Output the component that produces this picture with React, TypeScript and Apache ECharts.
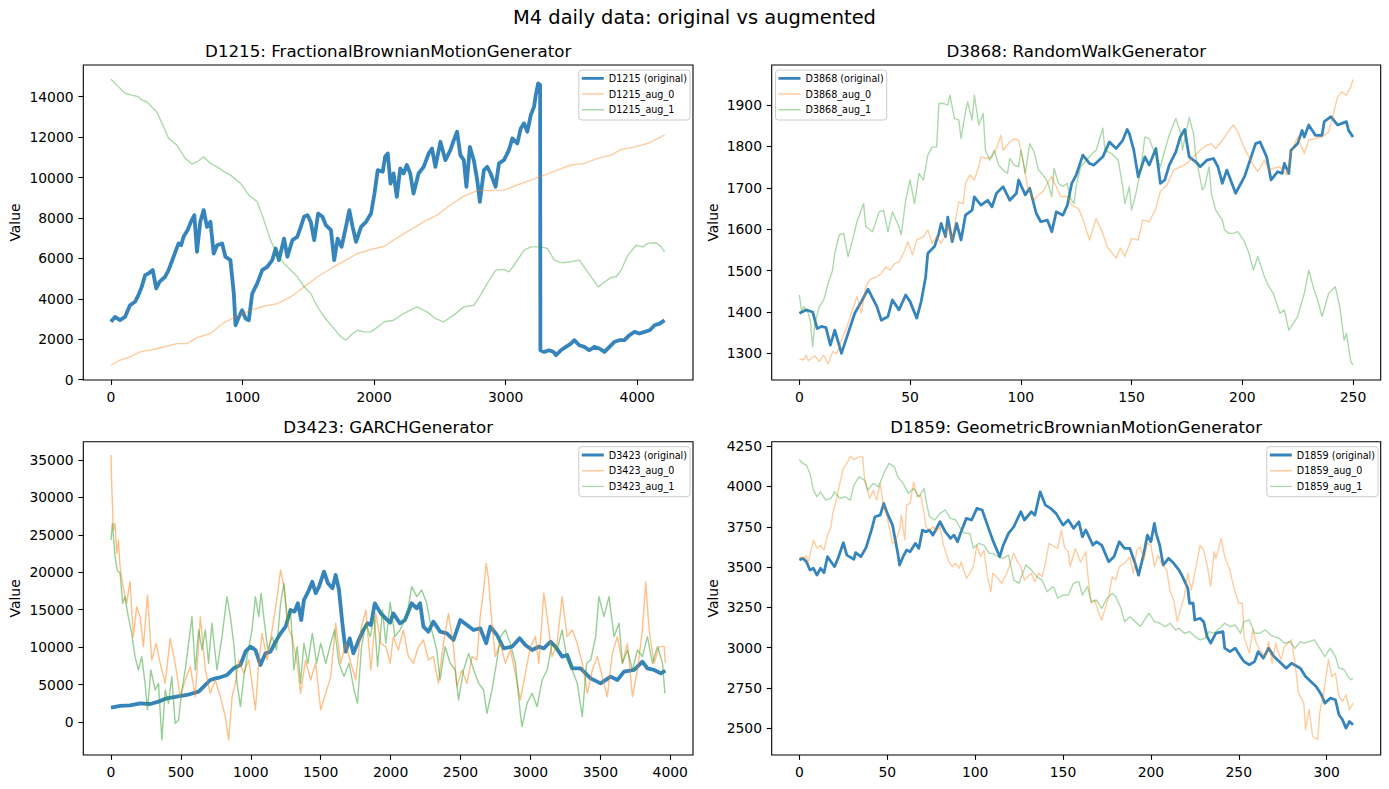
import React, { useEffect, useRef } from "react";
import * as echarts from "echarts";

// ---------------- DATA ----------------
// D1215: FractionalBrownianMotionGenerator  ([index, value])
const d1215Orig = [[0,2860],[31,3100],[69,2940],[107,3100],[145,3680],[183,3850],[209,4180],[234,4590],[260,5170],[285,5250],[318,5420],[344,4510],[369,4840],[412,5090],[438,5420],[476,6080],[514,6740],[534,6650],[552,7070],[583,7400],[608,7810],[634,8140],[654,6320],[679,7810],[705,8390],[730,7560],[756,7810],[781,6240],[807,6650],[845,6740],[870,6080],[908,5910],[934,4260],[947,2690],[972,3100],[997,3430],[1023,3020],[1048,2940],[1074,4260],[1112,4760],[1150,5420],[1188,5580],[1226,5910],[1252,6490],[1277,5910],[1316,6980],[1341,6080],[1379,6900],[1417,7070],[1443,7560],[1468,8060],[1494,8140],[1519,7810],[1545,6900],[1575,8220],[1608,8060],[1634,7640],[1672,7400],[1697,5910],[1723,6980],[1753,6570],[1786,7560],[1812,8390],[1837,7560],[1863,6820],[1901,7560],[1939,7810],[1977,8220],[2003,9210],[2028,10370],[2066,10290],[2084,11030],[2104,11190],[2125,9700],[2148,10200],[2173,9050],[2199,10450],[2224,10200],[2249,10620],[2275,10200],[2300,9210],[2338,10200],[2377,10530],[2415,11190],[2440,11440],[2466,10530],[2504,11770],[2542,10860],[2580,11360],[2606,11850],[2631,12270],[2656,11110],[2682,10860],[2702,9540],[2728,11520],[2758,10860],[2784,9870],[2804,8800],[2835,10370],[2860,10530],[2886,10200],[2924,9540],[2949,10700],[2987,10860],[3025,11360],[3051,11940],[3089,11690],[3115,12430],[3140,12680],[3165,12270],[3191,13090],[3216,13510],[3229,14080],[3247,14660],[3262,14580],[3264,1450],[3293,1370],[3331,1450],[3364,1370],[3382,1210],[3420,1450],[3458,1620],[3496,1780],[3522,1950],[3560,1700],[3598,1620],[3636,1450],[3674,1620],[3712,1540],[3751,1370],[3789,1620],[3827,1870],[3865,1950],[3903,1950],[3941,2200],[3980,2360],[4018,2280],[4056,2360],[4094,2440],[4132,2690],[4170,2770],[4208,2940]];
const d1215Aug0 = [[0,710],[69,960],[145,1120],[221,1370],[323,1490],[425,1650],[501,1780],[578,1780],[654,2080],[756,2280],[858,2810],[959,3140],[1061,3430],[1163,3630],[1265,3760],[1366,4090],[1468,4590],[1570,5090],[1672,5500],[1774,5880],[1875,6240],[1977,6440],[2079,6600],[2148,6900],[2249,7310],[2377,7810],[2478,8140],[2580,8640],[2682,9080],[2784,9350],[2860,9350],[2987,9380],[3089,9630],[3191,9870],[3293,10120],[3394,10370],[3496,10620],[3598,10700],[3700,10950],[3802,11110],[3878,11390],[3980,11520],[4081,11690],[4157,11940],[4208,12100]];
const d1215Aug1 = [[0,14860],[56,14500],[107,14170],[158,14080],[209,14000],[234,13840],[272,13750],[348,13260],[400,12510],[438,11940],[501,11610],[565,10950],[616,10670],[667,10830],[705,11030],[756,10700],[807,10530],[858,10290],[908,10120],[985,9710],[1048,9130],[1112,8800],[1163,7890],[1214,6900],[1265,6160],[1316,5750],[1366,5420],[1417,5090],[1468,4590],[1519,4260],[1570,3600],[1621,3100],[1684,2610],[1748,2110],[1786,1950],[1837,2280],[1875,2440],[1926,2360],[1977,2360],[2028,2610],[2079,2860],[2148,2940],[2224,3270],[2326,3600],[2402,3350],[2466,3020],[2529,2860],[2606,3190],[2682,3600],[2758,3680],[2809,4180],[2860,4760],[2924,5420],[2987,5450],[3025,5330],[3064,5660],[3140,6410],[3191,6570],[3267,6570],[3318,6490],[3369,5910],[3432,5780],[3496,5830],[3560,5910],[3623,5330],[3705,4590],[3751,4840],[3802,5050],[3840,5090],[3878,5420],[3929,6160],[3992,6650],[4043,6570],[4081,6740],[4145,6770],[4183,6570],[4208,6320]];

// D3868: RandomWalkGenerator
const d3868Orig = [[0,1397],[3,1405],[6,1400],[8,1360],[10,1365],[12,1362],[14,1320],[16,1356],[19,1300],[25,1397],[28,1425],[31,1455],[35,1413],[37,1380],[40,1389],[42,1429],[45,1405],[48,1441],[50,1425],[53,1385],[55,1425],[57,1484],[58,1542],[61,1558],[63,1590],[64,1614],[66,1582],[67,1629],[69,1570],[71,1614],[73,1574],[75,1634],[78,1646],[79,1678],[82,1658],[85,1670],[87,1654],[89,1687],[92,1703],[95,1670],[98,1687],[99,1719],[102,1683],[104,1699],[107,1638],[109,1618],[112,1622],[114,1594],[116,1642],[119,1634],[121,1658],[123,1711],[125,1731],[128,1779],[131,1759],[133,1755],[137,1775],[140,1811],[143,1795],[146,1815],[148,1841],[149,1831],[151,1791],[153,1727],[156,1775],[158,1755],[161,1795],[163,1711],[165,1719],[167,1755],[170,1787],[172,1823],[174,1841],[176,1775],[179,1763],[181,1751],[184,1767],[187,1771],[189,1751],[191,1711],[193,1743],[197,1687],[201,1727],[204,1775],[206,1807],[208,1811],[211,1775],[213,1719],[216,1739],[218,1735],[219,1759],[221,1735],[222,1791],[225,1807],[227,1839],[228,1823],[230,1852],[233,1827],[236,1827],[237,1860],[240,1872],[243,1852],[245,1856],[247,1860],[248,1839],[250,1823]];
const d3868Aug0 = [[0,1286],[2,1284],[3,1296],[4,1282],[7,1294],[9,1280],[11,1296],[13,1274],[15,1304],[17,1300],[19,1332],[21,1356],[24,1405],[26,1437],[28,1397],[30,1461],[32,1479],[35,1485],[37,1493],[39,1509],[41,1501],[43,1517],[45,1521],[47,1542],[49,1570],[51,1538],[53,1574],[56,1582],[58,1598],[60,1566],[62,1582],[64,1566],[66,1586],[67,1610],[69,1574],[71,1638],[72,1666],[74,1662],[75,1711],[77,1731],[79,1719],[81,1751],[82,1775],[85,1771],[87,1775],[89,1795],[91,1827],[92,1791],[95,1811],[97,1819],[99,1815],[101,1767],[103,1703],[106,1670],[108,1683],[110,1691],[112,1711],[114,1727],[116,1703],[118,1679],[121,1679],[123,1658],[126,1650],[128,1625],[131,1574],[134,1626],[137,1590],[139,1558],[143,1530],[145,1554],[147,1534],[150,1578],[153,1574],[155,1622],[158,1618],[161,1650],[163,1691],[166,1707],[169,1743],[172,1751],[175,1759],[178,1775],[181,1791],[184,1803],[186,1807],[188,1795],[191,1815],[194,1839],[196,1852],[198,1835],[201,1795],[203,1775],[205,1755],[207,1739],[210,1767],[212,1743],[214,1747],[217,1751],[220,1731],[222,1787],[224,1811],[225,1823],[228,1783],[230,1815],[233,1819],[236,1823],[239,1835],[241,1876],[243,1920],[245,1932],[247,1924],[249,1944],[250,1962]];
const d3868Aug1 = [[0,1441],[1,1401],[2,1413],[4,1397],[5,1377],[6,1316],[7,1372],[9,1413],[11,1429],[13,1469],[15,1501],[16,1542],[18,1586],[20,1590],[22,1534],[24,1574],[26,1618],[29,1662],[30,1606],[33,1594],[36,1642],[38,1646],[40,1594],[42,1642],[45,1606],[46,1586],[48,1670],[50,1719],[52,1662],[54,1735],[56,1719],[58,1779],[60,1799],[62,1799],[63,1904],[65,1904],[67,1900],[68,1924],[70,1868],[72,1864],[73,1819],[75,1884],[76,1908],[78,1864],[79,1924],[81,1852],[83,1880],[84,1791],[86,1767],[88,1791],[90,1755],[92,1743],[94,1735],[95,1771],[97,1755],[99,1751],[100,1791],[102,1735],[104,1807],[106,1787],[108,1743],[110,1731],[112,1715],[114,1679],[115,1747],[117,1711],[119,1703],[121,1711],[122,1679],[124,1662],[125,1705],[127,1751],[131,1775],[133,1787],[134,1791],[137,1844],[138,1791],[141,1783],[144,1767],[146,1703],[147,1662],[149,1703],[150,1646],[152,1687],[154,1739],[156,1823],[158,1819],[160,1791],[163,1751],[165,1791],[167,1827],[170,1868],[172,1835],[173,1791],[176,1870],[178,1831],[179,1775],[182,1695],[183,1703],[185,1751],[186,1687],[188,1646],[191,1622],[192,1598],[194,1590],[196,1590],[198,1594],[201,1570],[203,1542],[205,1501],[207,1534],[210,1485],[212,1461],[214,1445],[217,1397],[219,1405],[221,1356],[223,1372],[225,1389],[228,1445],[230,1501],[232,1461],[234,1429],[236,1389],[239,1445],[242,1461],[244,1413],[246,1332],[247,1348],[249,1280],[250,1272]];

// D3423: GARCHGenerator
const d3423Orig = [[0,1910],[65,2140],[136,2230],[208,2490],[280,2400],[340,2720],[399,3160],[471,3380],[543,3610],[627,4050],[663,4720],[710,5610],[746,5830],[782,5970],[830,6280],[878,7170],[926,7610],[962,9390],[997,10060],[1033,9620],[1069,7610],[1105,9170],[1141,9390],[1177,10730],[1213,11840],[1249,12730],[1284,14960],[1313,14740],[1337,15850],[1361,13620],[1380,16290],[1416,17630],[1440,18740],[1464,17190],[1488,18080],[1524,20080],[1552,18520],[1584,17850],[1607,19630],[1631,17630],[1655,13180],[1679,9390],[1708,11170],[1734,9170],[1763,10510],[1799,12070],[1835,13180],[1859,12960],[1887,15850],[1930,14510],[1966,13800],[1997,13270],[2019,14510],[2067,13180],[2103,13620],[2151,15850],[2187,15180],[2211,15850],[2235,12730],[2270,12070],[2306,13400],[2354,12070],[2402,11840],[2450,10950],[2498,13620],[2546,12960],[2593,12290],[2641,12510],[2684,10510],[2713,12730],[2761,11620],[2809,9840],[2868,10060],[2923,11170],[2964,10280],[3012,9620],[3060,10060],[3096,9840],[3144,10730],[3179,10060],[3227,8730],[3263,8950],[3299,7170],[3359,7170],[3431,5830],[3502,5160],[3574,6060],[3622,5610],[3670,6720],[3742,6950],[3801,8060],[3837,7170],[3885,6950],[3933,6500],[3965,6860]];
const d3423Aug0 = [[0,35660],[5,31880],[17,25640],[29,26530],[41,22530],[53,24310],[65,20750],[88,17850],[112,15850],[136,18740],[160,11400],[184,15400],[208,14070],[232,10060],[261,16960],[292,8280],[323,10510],[352,7840],[388,5160],[423,11170],[459,7840],[495,3380],[531,5610],[567,7390],[603,3380],[639,14070],[675,6950],[710,3830],[746,5610],[782,3380],[818,710],[842,-2400],[866,3380],[890,5160],[914,8280],[950,6500],[986,8280],[1009,5160],[1033,1600],[1057,7840],[1081,11840],[1117,8280],[1153,12290],[1189,16740],[1213,20300],[1237,18080],[1273,12290],[1296,11400],[1332,7840],[1356,3830],[1392,8280],[1428,5610],[1464,7840],[1500,1600],[1536,3830],[1572,6060],[1607,13180],[1643,7840],[1679,10510],[1715,7840],[1751,5610],[1787,12290],[1823,14960],[1859,6950],[1894,14510],[1930,10510],[1966,10060],[1997,7840],[2019,11400],[2055,9620],[2091,12290],[2127,8730],[2163,7840],[2199,10060],[2235,10950],[2270,8280],[2306,8730],[2342,5160],[2378,10510],[2414,14510],[2450,10060],[2474,4720],[2510,6950],[2546,5160],[2582,8730],[2617,8280],[2641,14070],[2665,17630],[2684,21190],[2701,18970],[2725,13180],[2749,8730],[2785,10510],[2821,7840],[2856,9620],[2892,6500],[2928,2940],[2964,6500],[3000,10060],[3036,11400],[3060,7840],[3096,17190],[3120,14070],[3155,8730],[3191,10510],[3227,16740],[3263,11400],[3299,12290],[3335,10510],[3371,7840],[3407,3830],[3443,6950],[3478,8730],[3514,6060],[3550,3380],[3586,9170],[3622,11400],[3658,7840],[3694,10510],[3730,3380],[3766,6950],[3801,12290],[3825,18740],[3849,12290],[3885,7840],[3921,10060],[3957,10060],[3965,7840]];
const d3423Aug1 = [[0,24310],[10,26530],[29,22080],[45,20300],[65,19860],[84,15850],[100,16740],[124,14070],[148,11840],[172,8730],[196,6950],[220,8730],[244,5160],[261,1600],[285,6950],[316,4270],[340,5160],[364,-2400],[388,4270],[411,2490],[435,6060],[459,-180],[483,270],[507,4270],[531,6950],[555,10510],[579,14070],[603,6950],[627,12290],[651,9620],[675,12290],[698,7840],[722,13180],[758,6950],[794,11400],[830,16740],[854,14070],[878,10510],[902,5160],[926,2050],[950,6060],[974,8730],[1009,12290],[1033,16740],[1057,14070],[1074,17190],[1098,13180],[1122,9620],[1153,11400],[1184,9620],[1213,15850],[1237,18520],[1261,13180],[1284,14960],[1308,6950],[1332,10060],[1356,5160],[1380,10510],[1409,7840],[1440,11840],[1471,7840],[1500,10510],[1536,7840],[1572,10510],[1600,12290],[1631,7840],[1667,6060],[1703,7840],[1739,4270],[1763,2490],[1792,10060],[1823,13180],[1854,11400],[1883,14070],[1907,7390],[1942,14960],[1966,10510],[1997,16000],[2031,11400],[2067,12290],[2115,14070],[2151,18080],[2187,16740],[2223,17630],[2258,15850],[2294,12290],[2330,9620],[2354,5610],[2390,10060],[2426,7840],[2462,6950],[2486,2940],[2522,6950],[2558,9170],[2594,6950],[2630,5160],[2665,4270],[2689,1160],[2725,4270],[2761,8280],[2785,11400],[2821,12290],[2856,10510],[2892,7840],[2928,1160],[2940,-620],[2976,2490],[3012,3830],[3048,2050],[3084,5610],[3120,6950],[3155,10510],[3191,9620],[3227,12290],[3263,8280],[3299,6950],[3335,5160],[3371,710],[3402,7840],[3431,8280],[3467,11400],[3490,16740],[3526,14070],[3562,16740],[3598,11400],[3634,13180],[3658,7840],[3694,9620],[3730,6950],[3766,9620],[3801,8730],[3837,11400],[3873,7840],[3909,10060],[3945,7840],[3962,3830]];

// D1859: GeometricBrownianMotionGenerator
const d1859Orig = [[0,3543],[2,3554],[4,3533],[6,3481],[8,3492],[10,3450],[12,3492],[14,3465],[16,3564],[20,3502],[22,3554],[25,3651],[27,3574],[31,3548],[32,3589],[35,3564],[38,3622],[41,3729],[43,3812],[46,3822],[48,3895],[50,3833],[53,3760],[56,3585],[57,3512],[59,3564],[61,3605],[63,3595],[66,3647],[68,3616],[70,3729],[72,3719],[74,3729],[76,3698],[80,3781],[83,3719],[86,3678],[88,3698],[90,3657],[92,3719],[95,3802],[98,3792],[101,3864],[104,3854],[107,3760],[110,3667],[114,3564],[116,3636],[119,3709],[122,3750],[126,3843],[128,3792],[132,3843],[134,3822],[137,3967],[140,3884],[143,3864],[146,3833],[150,3760],[153,3792],[156,3740],[159,3781],[161,3688],[163,3730],[167,3636],[169,3657],[172,3636],[176,3533],[179,3564],[182,3657],[185,3616],[188,3616],[191,3523],[193,3450],[196,3585],[198,3698],[200,3657],[202,3771],[203,3709],[205,3636],[207,3512],[210,3554],[213,3523],[216,3481],[218,3440],[221,3368],[222,3275],[224,3275],[225,3171],[228,3182],[230,3161],[232,3068],[234,3027],[237,3089],[241,3099],[242,2996],[245,2975],[248,2996],[251,2944],[253,2913],[256,2893],[259,2913],[261,2975],[264,2934],[267,2996],[270,2944],[273,2913],[277,2872],[280,2903],[285,2872],[288,2820],[291,2789],[294,2758],[297,2707],[299,2655],[302,2686],[305,2676],[307,2583],[309,2552],[311,2500],[313,2541],[315,2521]];
const d1859Aug0 = [[0,3564],[2,3554],[4,3568],[5,3523],[6,3574],[8,3667],[10,3616],[12,3636],[14,3605],[16,3698],[18,3750],[19,3833],[21,3915],[23,4019],[25,4112],[27,4143],[29,4188],[31,4167],[34,4184],[36,4184],[37,4060],[38,4008],[40,3926],[42,3977],[44,3915],[46,4019],[48,3874],[50,3812],[51,3750],[53,3647],[55,3667],[57,3729],[58,3822],[60,3667],[61,3884],[63,3895],[65,4029],[67,3936],[69,3946],[71,3833],[72,3750],[74,3729],[76,3750],[78,3719],[80,3750],[82,3636],[85,3533],[87,3502],[89,3523],[91,3492],[92,3533],[95,3430],[97,3461],[99,3502],[101,3636],[103,3564],[105,3605],[107,3440],[109,3347],[110,3461],[113,3430],[115,3399],[118,3461],[120,3523],[122,3585],[124,3533],[126,3502],[128,3419],[130,3440],[132,3461],[134,3409],[136,3461],[138,3440],[140,3523],[142,3647],[145,3626],[147,3616],[149,3729],[151,3616],[153,3595],[154,3502],[157,3615],[160,3530],[163,3595],[164,3461],[166,3275],[168,3295],[170,3223],[172,3171],[174,3243],[176,3316],[178,3440],[180,3419],[182,3502],[185,3523],[188,3564],[190,3461],[192,3605],[194,3626],[196,3543],[198,3647],[200,3636],[202,3502],[204,3574],[206,3523],[209,3481],[211,3347],[213,3295],[215,3161],[217,3243],[219,3316],[221,3461],[223,3357],[226,3523],[228,3636],[230,3605],[232,3512],[234,3378],[236,3595],[237,3554],[240,3678],[242,3564],[245,3481],[247,3378],[250,3275],[252,3275],[253,3068],[256,2965],[258,3110],[260,3027],[262,2986],[265,2944],[267,3037],[269,2903],[271,3027],[272,2986],[274,2924],[276,3006],[278,3027],[280,3048],[282,2903],[284,2717],[287,2655],[288,2490],[290,2614],[292,2448],[295,2428],[296,2593],[298,2696],[301,2924],[303,2820],[305,2841],[307,2696],[309,2665],[311,2707],[313,2614],[315,2655]];
const d1859Aug1 = [[0,4167],[2,4143],[4,4132],[6,4081],[8,3977],[10,3936],[12,3967],[15,3915],[18,3926],[20,3967],[23,3926],[26,3936],[29,3915],[31,4008],[34,4060],[37,4039],[39,3977],[42,4019],[45,3998],[48,4081],[51,4143],[54,4122],[56,4060],[59,4019],[62,3957],[65,3988],[68,3936],[71,3988],[72,3915],[74,3812],[77,3792],[80,3833],[83,3854],[86,3802],[89,3792],[91,3750],[94,3709],[97,3709],[99,3616],[102,3647],[105,3636],[108,3585],[110,3585],[113,3564],[116,3554],[119,3574],[122,3419],[125,3399],[127,3461],[129,3512],[132,3481],[135,3440],[138,3419],[141,3347],[144,3378],[145,3368],[147,3306],[150,3326],[153,3326],[156,3399],[159,3409],[161,3326],[164,3378],[166,3285],[169,3295],[172,3243],[175,3306],[178,3337],[180,3316],[183,3243],[185,3161],[188,3192],[191,3161],[194,3130],[197,3182],[199,3213],[202,3161],[205,3151],[208,3130],[211,3151],[214,3110],[216,3120],[219,3089],[222,3099],[225,3068],[228,3048],[231,3058],[233,3099],[236,3089],[239,3120],[242,3151],[245,3130],[248,3140],[251,3089],[253,3161],[256,3171],[259,3089],[262,3089],[265,3110],[268,3079],[270,3068],[273,3058],[276,3027],[279,3037],[282,2996],[285,3037],[287,3027],[290,3037],[293,3048],[296,2996],[299,2944],[302,2996],[305,2944],[307,2872],[310,2862],[312,2820],[314,2800],[315,2810]];

// Tick values
const ticksX1215 = [0, 1000, 2000, 3000, 4000];
const ticksY1215 = [0, 2000, 4000, 6000, 8000, 10000, 12000, 14000];
const ticksX3868 = [0, 50, 100, 150, 200, 250];
const ticksY3868 = [1300, 1400, 1500, 1600, 1700, 1800, 1900];
const ticksX3423 = [0, 500, 1000, 1500, 2000, 2500, 3000, 3500, 4000];
const ticksY3423 = [0, 5000, 10000, 15000, 20000, 25000, 30000, 35000];
const ticksX1859 = [0, 50, 100, 150, 200, 250, 300];
const ticksY1859 = [2500, 2750, 3000, 3250, 3500, 3750, 4000, 4250];

const suptitle = "M4 daily data: original vs augmented";
const panelTitles = [
  "D1215: FractionalBrownianMotionGenerator",
  "D3868: RandomWalkGenerator",
  "D3423: GARCHGenerator",
  "D1859: GeometricBrownianMotionGenerator",
];
const seriesIds = ["D1215", "D3868", "D3423", "D1859"];

// ---------------- LAYOUT / STYLE ----------------
const FONT = "DejaVu Sans";
const BLUE = "#1f77b4";
const ORANGE = "#ff7f0e";
const GREEN = "#2ca02c";

// legend handle icons (22 x 10 box, a centred bar of the line's thickness)
const ICON_THICK = "path://M0,0L0.01,0ZM0,3.6H22V6.4H0ZM0,10L0.01,10Z";
const ICON_THIN = "path://M0,0L0.01,0ZM0,4.3H22V5.7H0ZM0,10L0.01,10Z";

const panels = [
  { left: 83.3, top: 65, width: 609.7, height: 315, xr: [-210, 4424], yr: [-20, 15570], tx: ticksX1215, ty: ticksY1215, data: [d1215Orig, d1215Aug0, d1215Aug1], origW: 3.8, augOp: 0.4, legend: { right: 699, top: 70 }, valueX: 15.3 },
  { left: 771.7, top: 65, width: 609, height: 315, xr: [-12.5, 262.5], yr: [1235.5, 1997], tx: ticksX3868, ty: ticksY3868, data: [d3868Orig, d3868Aug0, d3868Aug1], origW: 2.78, augOp: 0.4, legend: { left: 775.5, top: 70 }, valueX: 712.5 },
  { left: 83.3, top: 441.7, width: 609.7, height: 313.3, xr: [-198, 4163], yr: [-4410, 37440], tx: ticksX3423, ty: ticksY3423, data: [d3423Orig, d3423Aug0, d3423Aug1], origW: 3.8, augOp: 0.5, legend: { right: 699, top: 446.7 }, valueX: 15.3 },
  { left: 771.7, top: 441.7, width: 609, height: 313.3, xr: [-15.75, 330.75], yr: [2333, 4278], tx: ticksX1859, ty: ticksY1859, data: [d1859Orig, d1859Aug0, d1859Aug1], origW: 2.78, augOp: 0.4, legend: { right: 11, top: 446.7 }, valueX: 712.5 },
];

function buildOption() {
  const grid: any[] = [];
  const xAxis: any[] = [];
  const yAxis: any[] = [];
  const series: any[] = [];
  const legend: any[] = [];
  const title: any[] = [
    {
      text: suptitle,
      left: 694.5,
      top: 8.3,
      textAlign: "center",
      padding: 0,
      textStyle: { fontFamily: FONT, fontSize: 19.44, fontWeight: "normal", color: "#000" },
    },
  ];
  const graphic: any[] = [];

  panels.forEach((p, i) => {
    grid.push({
      left: p.left,
      top: p.top,
      width: p.width,
      height: p.height,
      show: true,
      borderColor: "#000",
      borderWidth: 1.1,
      backgroundColor: "transparent",
      containLabel: false,
    });
    const tickStyle = { show: true, inside: false, length: 4.9, lineStyle: { color: "#000", width: 1.1 } };
    const labelStyle = {
      show: true,
      margin: 9.7,
      fontSize: 13.9,
      fontFamily: FONT,
      color: "#000",
      formatter: (v: number) => String(v),
    };
    xAxis.push({
      type: "value",
      gridIndex: i,
      position: "bottom",
      min: p.xr[0],
      max: p.xr[1],
      axisLine: { show: false, onZero: false },
      splitLine: { show: false },
      axisTick: { ...tickStyle, customValues: p.tx },
      axisLabel: { ...labelStyle, customValues: p.tx },
    });
    yAxis.push({
      type: "value",
      gridIndex: i,
      position: "left",
      min: p.yr[0],
      max: p.yr[1],
      axisLine: { show: false, onZero: false },
      splitLine: { show: false },
      axisTick: { ...tickStyle, customValues: p.ty },
      axisLabel: { ...labelStyle, customValues: p.ty },
    });

    const id = seriesIds[i];
    const names = [`${id} (original)`, `${id}_aug_0`, `${id}_aug_1`];
    const colors = [BLUE, ORANGE, GREEN];
    const widths = [p.origW, 1.39, 1.39];
    const opac = [0.9, p.augOp, p.augOp];
    names.forEach((name, k) => {
      series.push({
        type: "line",
        name,
        xAxisIndex: i,
        yAxisIndex: i,
        data: p.data[k],
        symbol: "none",
        showSymbol: false,
        silent: true,
        clip: true,
        color: colors[k],
        itemStyle: { color: colors[k], opacity: opac[k], borderWidth: 0 },
        lineStyle: { color: colors[k], width: widths[k], opacity: opac[k], join: "round", cap: "butt" },
      });
    });

    legend.push({
      ...p.legend,
      orient: "vertical",
      data: names.map((n, k) => ({
        name: n,
        icon: k === 0 ? ICON_THICK : ICON_THIN,
        itemStyle: { color: colors[k], opacity: k === 0 ? 0.9 : 0.4, borderWidth: 0 },
      })),
      selectedMode: false,
      itemWidth: 22,
      itemHeight: 10,
      itemGap: 5.7,
      padding: [3.3, 3, 5.3, 3],
      borderColor: "#cccccc",
      borderWidth: 1,
      borderRadius: 3,
      backgroundColor: "rgba(255,255,255,0.8)",
      itemStyle: { borderWidth: 0 },
      textStyle: { fontFamily: FONT, fontSize: 9.6, color: "#000" },
    });

    title.push({
      text: panelTitles[i],
      left: p.left + p.width / 2,
      top: p.top - 22.3,
      textAlign: "center",
      padding: 0,
      textStyle: { fontFamily: FONT, fontSize: 16.67, fontWeight: "normal", color: "#000" },
    });

    graphic.push({
      type: "text",
      x: p.valueX,
      y: p.top + p.height / 2,
      rotation: Math.PI / 2,
      style: {
        text: "Value",
        fontFamily: FONT,
        fontSize: 13.9,
        fill: "#000",
        align: "center",
        verticalAlign: "middle",
      },
    });
  });

  return {
    animation: false,
    backgroundColor: "#fff",
    title,
    grid,
    xAxis,
    yAxis,
    legend,
    series,
    graphic,
  };
}

export default function App() {
  const ref = useRef<HTMLDivElement>(null);
  useEffect(() => {
    if (!ref.current) return;
    const chart = echarts.init(ref.current, undefined, { renderer: "svg" });
    chart.setOption(buildOption() as any);
    return () => chart.dispose();
  }, []);
  return (
    <div
      ref={ref}
      style={{ position: "absolute", left: 0, top: 0, width: 1389, height: 789, background: "#fff" }}
    />
  );
}
